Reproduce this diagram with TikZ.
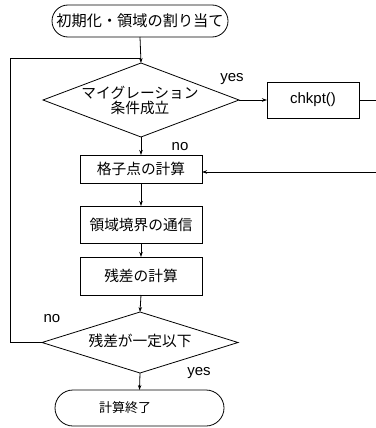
\documentclass[tikz,border=0pt]{standalone}
\usepackage{fontspec}
\setmainfont{Liberation Sans}
\newfontfamily\jp{Noto Sans CJK JP}
\usetikzlibrary{shapes.geometric,arrows.meta}
\begin{document}
\begin{tikzpicture}[x=1pt,y=-1pt,
  line width=0.8pt,
  every node/.style={inner sep=0pt,outer sep=0pt},
  term/.style={draw,rectangle,rounded corners=#1,font=\jp\fontsize{15.2}{17}\selectfont},
  proc/.style={draw,rectangle,minimum width=122pt,font=\jp\fontsize{14.7}{16}\selectfont},
  dia/.style={draw,diamond,minimum width=196pt},
  jtext/.style={font=\jp\fontsize{14.7}{16}\selectfont},
  lab/.style={font=\fontsize{15}{17}\selectfont},
  arr/.style={-{Stealth[length=5pt,width=3.5pt]}}
]
\useasboundingbox (0,0) rectangle (375,428);
% nodes
\node[term=16pt,minimum width=176pt,minimum height=32pt] (start) at (140,21) {初期化・領域の割り当て};
\node[dia,minimum height=74pt] (d1) at (141,100) {};
\node[jtext,align=center] (d1t) at (140,100) {マイグレーション\\[-1pt]条件成立};
\node[draw,rectangle,minimum width=92pt,minimum height=36pt,lab] (chk) at (313,100) {chkpt()};
\node[proc,minimum height=28pt] (b1) at (141,169) {格子点の計算};
\node[proc,minimum height=37pt] (b2) at (141,224.5) {領域境界の通信};
\node[proc,minimum height=38pt] (b3) at (141,276) {残差の計算};
\node[dia,minimum height=61pt] (d2) at (140,342.5) {};
\node[jtext] (d2t) at (140,341) {残差が一定以下};
\node[term=18pt,minimum width=169pt,minimum height=36pt] (end) at (139.5,408) {};
\node[font=\jp\fontsize{13}{15}\selectfont] (endt) at (125,408) {計算終了};
% labels
\node[lab] (yes1) at (232,79) {yes};
\node[lab] (no1) at (180,147) {no};
\node[lab] (no2) at (52,319) {no};
\node[lab] (yes2) at (199,373) {yes};
% coordinates
\coordinate (join) at (141,58);
\coordinate (lft) at (10,58);
\coordinate (rgt) at (377,100);
% connectors
\draw[arr] (start.south) -- (d1.north);
\draw[arr] (d1.east) -- (chk.west);
\draw[arr] (chk.east) -- (rgt) |- ([yshift=-3pt]b1.east);
\draw[arr] (d1.south) -- (b1.north);
\draw[arr] (b1.south) -- (b2.north);
\draw[arr] (b2.south) -- (b3.north);
\draw[arr] (b3.south) -- (d2.north);
\draw[arr] (d2.south) -- (end.north);
\draw (d2.west) -| (lft) -- (join);
\end{tikzpicture}
\end{document}
